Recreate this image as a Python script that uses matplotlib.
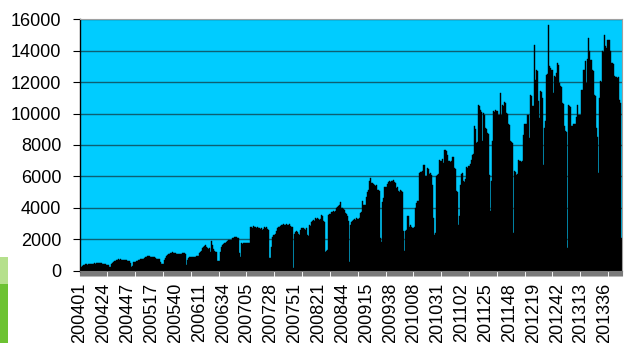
import matplotlib
matplotlib.use('Agg')
import matplotlib.pyplot as plt
from matplotlib.patches import Rectangle
import numpy as np

years = [2004, 2005, 2006, 2007, 2008, 2009, 2010, 2011, 2012, 2013]
weeks_per_year = [53, 52, 52, 53, 52, 53, 52, 52, 52, 52]

v2004 = [180, 250, 300, 360, 380, 390, 400, 380, 390, 410,
         400, 430, 420, 440, 450, 430, 470, 480, 490, 470,
         480, 450, 430, 440, 420, 400, 370, 330, 220, 200,
         430, 480, 560, 600, 620, 650, 700, 720, 700, 710,
         690, 700, 680, 660, 670, 640, 630, 620, 630, 450,
         240, 260, 540]
v2005 = [520, 600, 630, 650, 700, 720, 740, 730, 760, 800,
         830, 880, 920, 910, 900, 870, 860, 880, 850, 860,
         780, 760, 730, 720, 740, 560, 390, 420, 670, 800,
         900, 990, 1020, 1060, 1100, 1140, 1150, 1130, 1120, 1140,
         1080, 1060, 1050, 1070, 1060, 1080, 1100, 1090, 1100, 1050,
         350, 700]
v2006 = [820, 850, 870, 860, 880, 850, 870, 900, 930, 950,
         1100, 1200, 1250, 1450, 1520, 1550, 1650, 1480, 1430, 1400,
         1450, 1200, 1850, 1600, 1400, 1250, 1200, 1150, 600, 620,
         1200, 1500, 1650, 1700, 1770, 1780, 1800, 1880, 1940, 1950,
         1920, 1960, 2050, 2100, 2150, 2130, 2150, 2100, 2080, 1100,
         880, 1720]
v2007 = [1700, 1720, 1750, 1740, 1760, 1750, 1780, 2750, 2800, 2700,
         2860, 2780, 2750, 2700, 2760, 2720, 2700, 2650, 2700, 2600,
         2620, 2760, 2700, 2740, 2650, 2600, 800, 780, 1500, 2150,
         2250, 2300, 2500, 2700, 2750, 2800, 2850, 2900, 2880, 2950,
         2900, 2920, 2950, 2880, 2900, 2950, 2850, 2800, 2780, 160,
         2350, 2450, 2500]
v2008 = [2450, 2300, 2260, 2600, 2680, 2710, 2650, 2600, 2680, 2260,
         2200, 2900, 2850, 3100, 3150, 3200, 3150, 3320, 3300, 3350,
         3250, 3200, 3280, 3535, 3500, 3150, 3100, 1200, 1250, 1300,
         3535, 3600, 3700, 3750, 3780, 3750, 3800, 4000, 4060, 4100,
         4200, 4380, 3960, 3950, 3900, 3850, 3650, 3600, 3500, 3150,
         560, 2900]
v2009 = [3100, 3150, 3200, 3250, 3200, 3320, 3300, 3350, 3650, 3700,
         4400, 4170, 4170, 4200, 4700, 5000, 5130, 5700, 5910, 5550,
         5600, 5500, 5450, 5400, 5450, 5130, 5100, 5050, 2050, 1835,
         4380, 4600, 5340, 5300, 5500, 5660, 5700, 5650, 5700, 5700,
         5750, 5650, 5600, 5250, 5300, 5045, 5000, 5100, 5050, 5000,
         2500, 1220, 2500]
v2010 = [2600, 3450, 3500, 2800, 2900, 2750, 2700, 2800, 3980, 4300,
         4400, 4450, 6200, 6250, 6300, 6350, 6740, 6700, 6000, 6050,
         6500, 6450, 6150, 6200, 6100, 5470, 3350, 2280, 2400, 6020,
         6100, 6150, 7060, 7000, 7100, 6850, 7700, 7650, 7600, 7360,
         6950, 7000, 6900, 6950, 7250, 7200, 6500, 6450, 5040, 5000,
         2920, 3500]
v2011 = [5470, 6150, 6200, 5700, 5650, 5800, 6600, 6550, 6650, 6800,
         7060, 7380, 7400, 9190, 9000, 8120, 8200, 10560, 10500, 10240,
         10100, 8230, 10030, 9900, 9080, 9000, 8760, 8700, 6100, 3770,
         5680, 8230, 10140, 10100, 10200, 10150, 9920, 9900, 11300, 9920,
         10560, 10500, 10730, 10700, 10030, 10000, 9300, 9250, 8230, 8200,
         8100, 2390]
v2012 = [6320, 6300, 6100, 6150, 7060, 7000, 6950, 6900, 7000, 8650,
         9300, 9350, 9920, 9900, 8440, 11200, 11100, 10450, 10500, 14380,
         12150, 12790, 12700, 10770, 9710, 11410, 11400, 11000, 6740, 9080,
         9500, 12470, 12500, 15660, 13000, 12900, 12800, 11300, 12370, 12300,
         12580, 13220, 13100, 11940, 11730, 11700, 10670, 10600, 9190, 8870,
         8800, 1430]
v2013 = [10560, 10500, 10400, 9190, 9200, 9300, 9350, 9300, 9800, 10560,
         9920, 9900, 11520, 11500, 12790, 12800, 13330, 11940, 13500, 14810,
         13960, 13430, 13400, 12790, 12700, 11200, 11100, 9080, 8500, 6210,
         11000, 12040, 12000, 13960, 13900, 15020, 14280, 14200, 14700, 14650,
         13960, 13220, 13200, 13150, 12370, 12300, 12300, 12250, 12300, 10880,
         10670, 2070]

yearly = [v2004, v2005, v2006, v2007, v2008, v2009, v2010, v2011, v2012, v2013]
values = [v for yv in yearly for v in yv]
categories = [f"{y}{w:02d}" for y, n in zip(years, weeks_per_year) for w in range(1, n + 1)]
label_step = 23
y_ticks = list(range(0, 16001, 2000))

plt.rcParams['font.family'] = ['Liberation Sans', 'DejaVu Sans']

W, H = 626, 343
fig = plt.figure(figsize=(W / 100, H / 100), dpi=100)
ax = fig.add_axes([79.5 / W, (H - 270.5) / H, (622 - 79.5) / W, (270.5 - 19.3) / H])

x = np.arange(len(values))
ax.bar(x, values, width=1.0, color='black', edgecolor='black', linewidth=0.3)
ax.set_xlim(-0.5, len(values) - 0.5)
ax.set_ylim(0, 16000)
ax.set_facecolor('#00CCFF')

ax.set_yticks(y_ticks)
ax.set_yticklabels([str(t) for t in y_ticks])
ax.yaxis.grid(True, color='#0d5f73', lw=1.0)
ax.set_axisbelow(True)

ax.set_xticks(x[::label_step])
ax.set_xticklabels(categories[::label_step], rotation=90, fontsize=13)
ax.set_xticks(np.arange(-0.5, len(values), 1), minor=True)
ax.tick_params(axis='x', which='major', length=0, pad=9)
ax.tick_params(axis='x', which='minor', length=3.8, color='#7a7a7a', width=0.8)
ax.tick_params(axis='y', length=5, width=0.8, pad=8, labelsize=13)

ax.spines['left'].set_color('black')
ax.spines['left'].set_linewidth(1.0)
ax.spines['bottom'].set_color('#7a7a7a')
ax.spines['top'].set_color('#a0a0a0')
ax.spines['right'].set_color('#a0a0a0')

fig.add_artist(Rectangle((0, (H - 284) / H), 8 / W, 27 / H, transform=fig.transFigure,
                         facecolor='#B5E08C', edgecolor='none'))
fig.add_artist(Rectangle((0, 0), 8 / W, (H - 284) / H, transform=fig.transFigure,
                         facecolor='#6CC232', edgecolor='none'))

fig.savefig('out.png', dpi=100)
